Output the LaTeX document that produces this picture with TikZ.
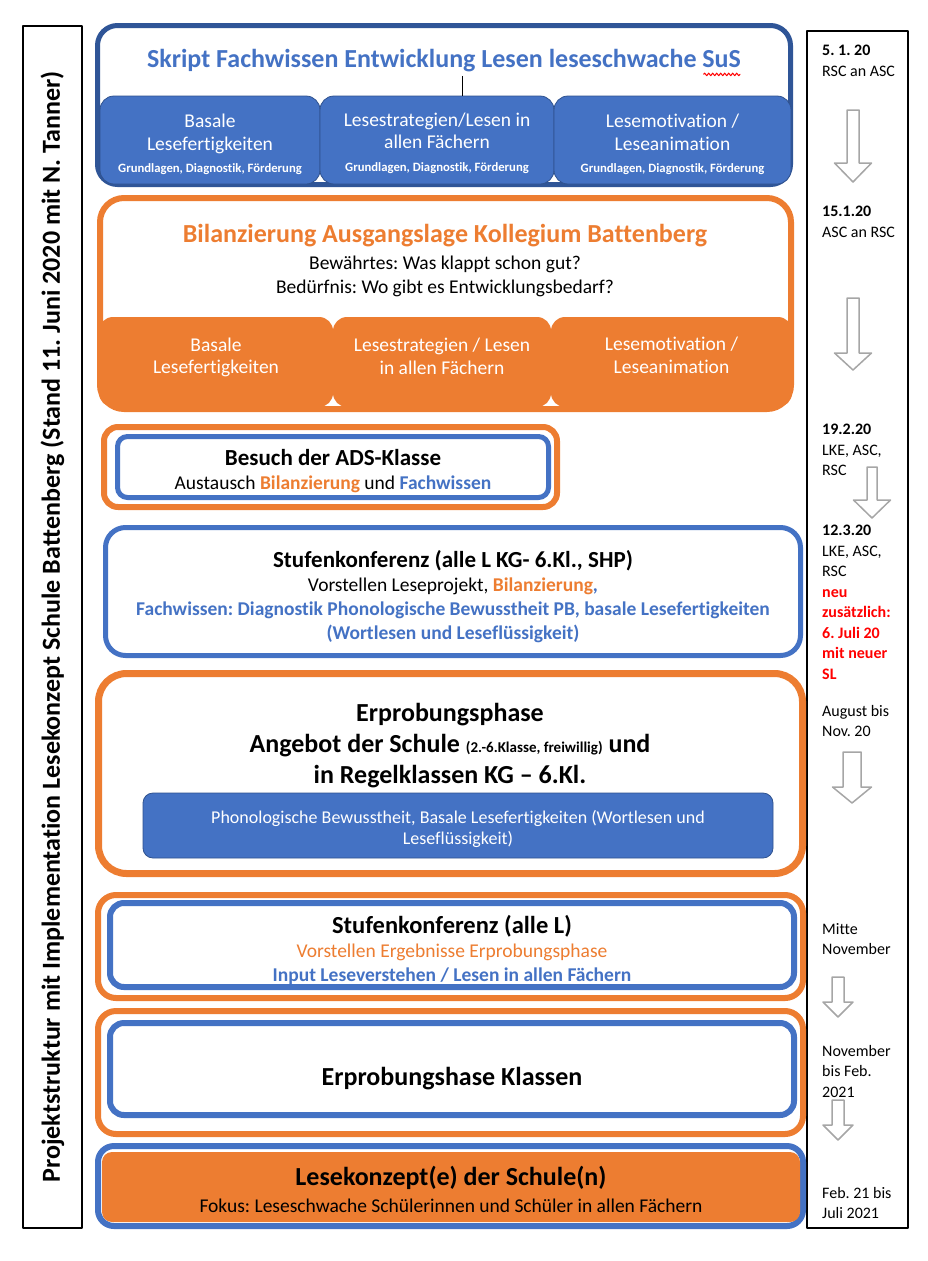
\documentclass[tikz,border=0pt]{standalone}
\usepackage{fontspec}
\setmainfont{Carlito}[Ligatures=NoCommon]
\frenchspacing
\usetikzlibrary{decorations.pathmorphing}
\definecolor{lkblue}{HTML}{4472C4}
\definecolor{lkdarkblue}{HTML}{2F5597}
\definecolor{lkorange}{HTML}{ED7D31}
\definecolor{lkgray}{HTML}{A6A6A6}
\definecolor{lkred}{HTML}{FF0000}
\definecolor{tileline}{HTML}{2F528F}
\newcommand{\tlarrow}[6]{%
  \draw[tlarrowline] (#1-#5,#2) -- (#1+#5,#2) -- (#1+#5,#3) -- (#1+#6,#3)
    -- (#1,#4) -- (#1-#6,#3) -- (#1-#5,#3) -- cycle;}
\tikzset{
  boxframe/.style={draw, fill=white, inner sep=0pt, rounded corners=16pt},
  blueframe/.style={boxframe, draw=lkblue, line width=5pt},
  orangeframe/.style={boxframe, draw=lkorange, line width=6pt},
  tile/.style={inner sep=0pt, rounded corners=14pt},
  bluetile/.style={tile, fill=lkblue, draw=tileline, line width=0.8pt},
  orangetile/.style={tile, fill=lkorange},
  tiletext/.style={align=center, text=white, inner sep=0pt, font=\fontsize{19.5}{22.5}\selectfont},
  sidebox/.style={draw, line width=1.5pt, inner sep=0pt},
  datetext/.style={anchor=north west, align=left, inner sep=0pt, font=\fontsize{16}{20.5}\selectfont},
  tlarrowline/.style={draw=lkgray, line width=1.5pt, fill=white},
  headfont/.style={font=\bfseries\fontsize{26}{31}\selectfont},
  bodytext/.style={align=center, inner sep=0pt, font=\fontsize{19.5}{24.5}\selectfont},
}
\newcommand{\smalltile}{\bfseries\fontsize{12.7}{15}\selectfont}
\newcommand{\subhead}{\bfseries\fontsize{23}{24}\selectfont}
\begin{document}
\begin{tikzpicture}[x=1pt, y=-1pt, line join=round]
  \useasboundingbox (0,0) rectangle (927,1261);

  \node[sidebox, rotate=90, minimum width=1202pt, minimum height=59pt,
    font=\bfseries\fontsize{26}{28}\selectfont] (side) at (52.5,627)
    {Projektstruktur mit Implementation Lesekonzept Schule Battenberg (Stand 11. Juni 2020 mit N. Tanner)};
  \node[sidebox, minimum width=101pt, minimum height=1197pt] (timeline) at (857.5,629.5) {};

  % Skript
  \node[blueframe, draw=lkdarkblue, minimum width=693pt, minimum height=159pt, rounded corners=20pt] (skriptbox) at (444,105) {};
  \node[headfont, text=lkblue] (skript) at (444,61) {Skript Fachwissen Entwicklung Lesen leseschwache SuS};
  \draw[lkred, line width=1pt, decorate, decoration={snake, amplitude=1.3pt, segment length=4pt}]
    ([xshift=-41pt, yshift=-6.5pt]skript.base east) -- ([xshift=-4pt, yshift=-6.5pt]skript.base east);
  \node[bluetile, minimum width=220pt, minimum height=88pt] (basal) at (210,140) {};
  \node[bluetile, minimum width=234pt, minimum height=88pt] (strat) at (437,140) {};
  \node[bluetile, minimum width=237pt, minimum height=88pt] (motiv) at (672.5,140) {};
  \node[tiletext] (basaltext) at (210,144.5) {Basale\\Lesefertigkeiten\\{\smalltile Grundlagen, Diagnostik, Förderung}};
  \node[tiletext] (strattext) at (437,143) {Lesestrategien/Lesen in\\allen Fächern\\{\smalltile Grundlagen, Diagnostik, Förderung}};
  \node[tiletext] (motivtext) at (672.5,144.5) {Lesemotivation /\\Leseanimation\\{\smalltile Grundlagen, Diagnostik, Förderung}};
  \coordinate (linkx) at (462,0);
  \draw[line width=1pt] (skript.south -| linkx) -- (strat.north -| linkx);

  % Bilanzierung
  \node[orangeframe, minimum width=691pt, minimum height=211pt, rounded corners=24pt] (bilbox) at (445.5,303.5) {};
  \node[headfont, text=lkorange] (biltitle) at (445,236) {Bilanzierung Ausgangslage Kollegium Battenberg};
  \node[bodytext] (bilq) at (445,276.5) {Bewährtes: Was klappt schon gut?\\Bedürfnis: Wo gibt es Entwicklungsbedarf?};
  \node[orangetile, minimum width=234pt, minimum height=90pt] (obasal) at (216,362) {};
  \node[orangetile, minimum width=218pt, minimum height=90pt] (ostrat) at (442,362) {};
  \node[orangetile, minimum width=241pt, minimum height=90pt] (omotiv) at (671.5,362) {};
  \node[tiletext] (obasaltext) at ([yshift=4.5pt]obasal.center) {Basale\\Lesefertigkeiten};
  \node[tiletext] (ostrattext) at ([yshift=5.5pt]ostrat.center) {Lesestrategien / Lesen\\in allen Fächern};
  \node[tiletext] (omotivtext) at ([yshift=6.5pt]omotiv.center) {Lesemotivation /\\Leseanimation};

  % Besuch
  \node[orangeframe, minimum width=453pt, minimum height=80pt, rounded corners=14pt] (adsouter) at (330.5,467) {};
  \node[blueframe, minimum width=431pt, minimum height=61pt, rounded corners=10pt] (ads) at (333,467) {};
  \node[bodytext] (adstext) at (333,471)
    {{\subhead Besuch der ADS-Klasse}\\Austausch \textcolor{lkorange}{\textbf{Bilanzierung}} und \textcolor{lkblue}{\textbf{Fachwissen}}};

  % Stufenkonferenz 1
  \node[blueframe, minimum width=695pt, minimum height=128pt, rounded corners=20pt] (stufe) at (453,591.5) {};
  \node[bodytext, font=\fontsize{19.5}{24}\selectfont] (stufetext) at (453,597)
    {{\subhead Stufenkonferenz (alle L KG- 6.Kl., SHP)}\\
     Vorstellen Leseprojekt, \textcolor{lkorange}{\textbf{Bilanzierung}}\textcolor{lkblue}{\textbf{,}}\\
     \textcolor{lkblue}{\textbf{Fachwissen: Diagnostik Phonologische Bewusstheit PB, basale Lesefertigkeiten}}\\
     \textcolor{lkblue}{\textbf{(Wortlesen und Leseflüssigkeit)}}};

  % Erprobungsphase
  \node[orangeframe, line width=7pt, minimum width=704pt, minimum height=200pt, rounded corners=28pt] (erprob) at (450.5,773.5) {};
  \node[headfont, align=center] (erprobhead) at (450,746)
    {Erprobungsphase\\Angebot der Schule {\fontsize{15}{31}\selectfont (2.-6.Klasse, freiwillig)} und\\in Regelklassen KG – 6.Kl.};
  \node[bluetile, minimum width=630pt, minimum height=65pt, rounded corners=10pt] (pbtile) at (458,825.5) {};
  \node[tiletext, font=\fontsize{18}{21}\selectfont] (pbtext) at (458,829)
    {Phonologische Bewusstheit, Basale Lesefertigkeiten (Wortlesen und\\Leseflüssigkeit)};

  % Stufenkonferenz 2
  \node[orangeframe, minimum width=705pt, minimum height=103pt, rounded corners=18pt] (stufetwoouter) at (450.5,946.5) {};
  \node[blueframe, line width=6pt, minimum width=684pt, minimum height=84pt, rounded corners=14pt] (stufetwo) at (452,945) {};
  \node[bodytext, font=\fontsize{19.5}{24}\selectfont] (stufetwotext) at (452,950)
    {{\bfseries\fontsize{24.5}{24}\selectfont Stufenkonferenz (alle L)}\\
     \textcolor{lkorange}{Vorstellen Ergebnisse Erprobungsphase}\\
     \textcolor{lkblue}{\textbf{Input Leseverstehen / Lesen in allen Fächern}}};

  % Erprobung Klassen
  \node[orangeframe, minimum width=705pt, minimum height=123pt, rounded corners=18pt] (klassenouter) at (450.5,1072.5) {};
  \node[blueframe, line width=6pt, minimum width=684pt, minimum height=92pt, rounded corners=14pt] (klassen) at (452,1069) {};
  \node[headfont] (klassentext) at (452,1079) {Erprobungshase Klassen};

  % Lesekonzept
  \node[blueframe, line width=6pt, minimum width=705pt, minimum height=80pt, rounded corners=16pt] (konzeptouter) at (450.5,1186) {};
  \node[orangetile, minimum width=698pt, minimum height=70pt, rounded corners=10pt] (konzept) at (451,1187) {};
  \node[bodytext, font=\fontsize{19.5}{27}\selectfont] (konzepttext) at (451,1189)
    {{\bfseries\fontsize{26}{27}\selectfont Lesekonzept(e) der Schule(n)}\\Fokus: Leseschwache Schülerinnen und Schüler in allen Fächern};

  % Zeitleiste
  \node[datetext] (dA) at (822,45) {\textbf{5. 1. 20}\\RSC an ASC};
  \node[datetext] (dB) at (822,206) {\textbf{15.1.20}\\ASC an RSC};
  \node[datetext] (dC) at (822,424) {\textbf{19.2.20}\\LKE, ASC,\\RSC};
  \node[datetext] (dD) at (822,525) {\textbf{12.3.20}\\LKE, ASC,\\RSC\\
    \textcolor{lkred}{\textbf{neu}}\\\textcolor{lkred}{\textbf{zusätzlich:}}\\\textcolor{lkred}{\textbf{6. Juli 20}}\\
    \textcolor{lkred}{\textbf{mit neuer}}\\\textcolor{lkred}{\textbf{SL}}};
  \node[datetext] (dE) at (822,705) {August bis\\Nov. 20};
  \node[datetext] (dF) at (822,923) {Mitte\\November};
  \node[datetext] (dG) at (822,1045) {November\\bis Feb.\\2021};
  \node[datetext] (dH) at (822,1187) {Feb. 21 bis\\Juli 2021};

  \tlarrow{853}{110}{163}{182}{6}{18.5}
  \tlarrow{853}{298}{353}{370}{6}{18.5}
  \tlarrow{872}{467}{500}{518}{5}{18.5}
  \tlarrow{852}{752}{787}{803}{9}{19.5}
  \tlarrow{838}{977}{1002}{1017}{6}{15}
  \tlarrow{838}{1100}{1125}{1140}{6}{15}
\end{tikzpicture}
\end{document}
